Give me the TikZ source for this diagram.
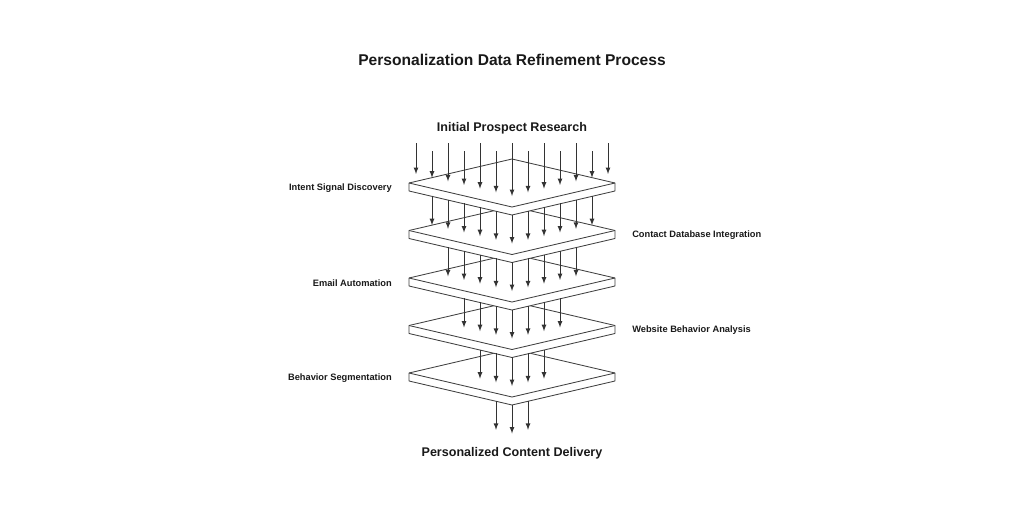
\documentclass[tikz,border=0pt]{standalone}
\usepackage{fontspec}
\setmainfont{Liberation Sans}
\usetikzlibrary{arrows}

\tikzset{
    plate/.style={draw=black!75, fill=white, line width=.6pt, line join=round},
    flow/.style={-latex, black!80, line width=.6pt},
    heading/.style={font=\bfseries\fontsize{11.08}{13}\selectfont, text=black!90},
    stage/.style={font=\bfseries\fontsize{8.93}{12}\selectfont, text=black!90},
    lefttag/.style={font=\bfseries\fontsize{6.6}{8}\selectfont, text=black!90, anchor=east, inner sep=0pt},
    righttag/.style={font=\bfseries\fontsize{6.6}{8}\selectfont, text=black!90, anchor=west, inner sep=0pt}
}

\begin{document}
\begin{tikzpicture}[x=.025cm,y=-.025cm]
        \useasboundingbox (0,0) rectangle (1024,512);

        \node[heading] (title) at (512,60) {Personalization Data Refinement Process};
        \node[stage] (start) at (512,128) {Initial Prospect Research};
        \node[stage] (finish) at (512,453) {Personalized Content Delivery};

        % plates, lowest first
        \foreach \y in {373,325.5,278,230.5,183} {
            \draw[plate] (409,\y) -- (512,\y-24) -- (615,\y) -- (615,\y+8) -- (512,\y+32) -- (409,\y+8) -- cycle;
            \draw[plate] (409,\y) -- (512,\y+24) -- (615,\y);
        }

        % rain onto the top plate
        \foreach \k in {-6,-4,...,6} {
            \coordinate (a) at (512+16*\k,143);
            \coordinate (b) at (512+16*\k,{196-3.67*abs(\k)});
            \draw[flow] (a) -- (b);
        }
        \foreach \k in {-5,-3,...,5} {
            \coordinate (a) at (512+16*\k,151);
            \coordinate (b) at (512+16*\k,{196-3.67*abs(\k)});
            \draw[flow] (a) -- (b);
        }

        % one arrow less per side at each level
        \foreach \i/\m in {1/5,2/4,3/3,4/2,5/1} {
            \foreach \k in {-\m,...,\m} {
                \coordinate (a) at (512+16*\k,{214.5+47.5*\i-47.5-3.73*abs(\k)});
                \coordinate (b) at (512+16*\k,{196+47.5*\i-3.67*abs(\k)});
                \draw[flow] (a) -- (b);
            }
        }

        \node[lefttag] (intent) at (392,188) {Intent Signal Discovery};
        \node[righttag] (contact) at (632,235) {Contact Database Integration};
        \node[lefttag] (email) at (392,283) {Email Automation};
        \node[righttag] (website) at (632,330) {Website Behavior Analysis};
        \node[lefttag] (segment) at (392,378) {Behavior Segmentation};
    \end{tikzpicture}
\end{document}
